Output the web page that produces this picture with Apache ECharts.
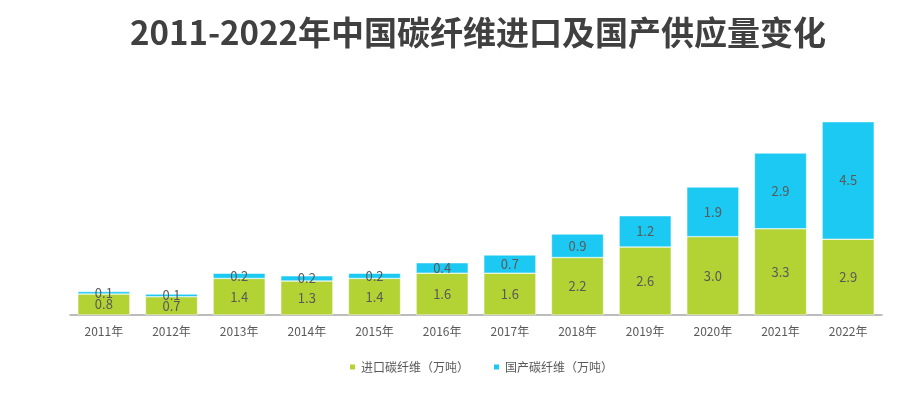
<!DOCTYPE html>
<html><head><meta charset="utf-8">
<script src="https://cdn.jsdelivr.net/npm/echarts@6/dist/echarts.min.js"></script>
<style>html,body{margin:0;padding:0;background:#fff}#c{width:913px;height:393px}</style>
</head><body><div id="c"></div>
<script>
const categories = ['2011年','2012年','2013年','2014年','2015年','2016年','2017年','2018年','2019年','2020年','2021年','2022年'];
const importValues = [0.8,0.7,1.4,1.3,1.4,1.6,1.6,2.2,2.6,3.0,3.3,2.9];
const domesticValues = [0.1,0.1,0.2,0.2,0.2,0.4,0.7,0.9,1.2,1.9,2.9,4.5];
const seriesNames = ['进口碳纤维（万吨）','国产碳纤维（万吨）'];
const titleText = '2011-2022年中国碳纤维进口及国产供应量变化';

const chart = echarts.init(document.getElementById('c'));
const font = '"Noto Sans CJK SC", "Noto Sans", sans-serif';
const lbl = {show:true, position:'inside', color:'#595959', fontSize:13, fontFamily:font,
  formatter: p => p.value.toFixed(1)};
chart.setOption({
  animation:false,
  title:{text:titleText, left:473, textAlign:'center', top:11,
    textStyle:{fontSize:33, fontWeight:'bold', color:'#404040', fontFamily:font}},
  legend:{bottom:15, left:343, itemWidth:7, itemHeight:7, itemGap:23,
    icon:'rect', textStyle:{color:'#595959', fontSize:12, fontFamily:font}},
  grid:{left:70, right:31, top:106, bottom:78},
  xAxis:{type:'category', data:categories,
    axisLine:{lineStyle:{color:'#a6a6a6', width:1.5}}, axisTick:{show:false},
    axisLabel:{color:'#595959', fontSize:12, fontFamily:font, margin:10}},
  yAxis:{type:'value', min:0, max:8, show:false, splitLine:{show:false}},
  series:[
    {name:seriesNames[0], type:'bar', stack:'a', data:importValues, barCategoryGap:'23%',
     itemStyle:{color:'#b3d234', borderColor:'#fff', borderWidth:0.5}, label:lbl},
    {name:seriesNames[1], type:'bar', stack:'a', data:domesticValues,
     itemStyle:{color:'#1bc9f2', borderColor:'#fff', borderWidth:0.5}, label:lbl}
  ]
});
</script></body></html>
